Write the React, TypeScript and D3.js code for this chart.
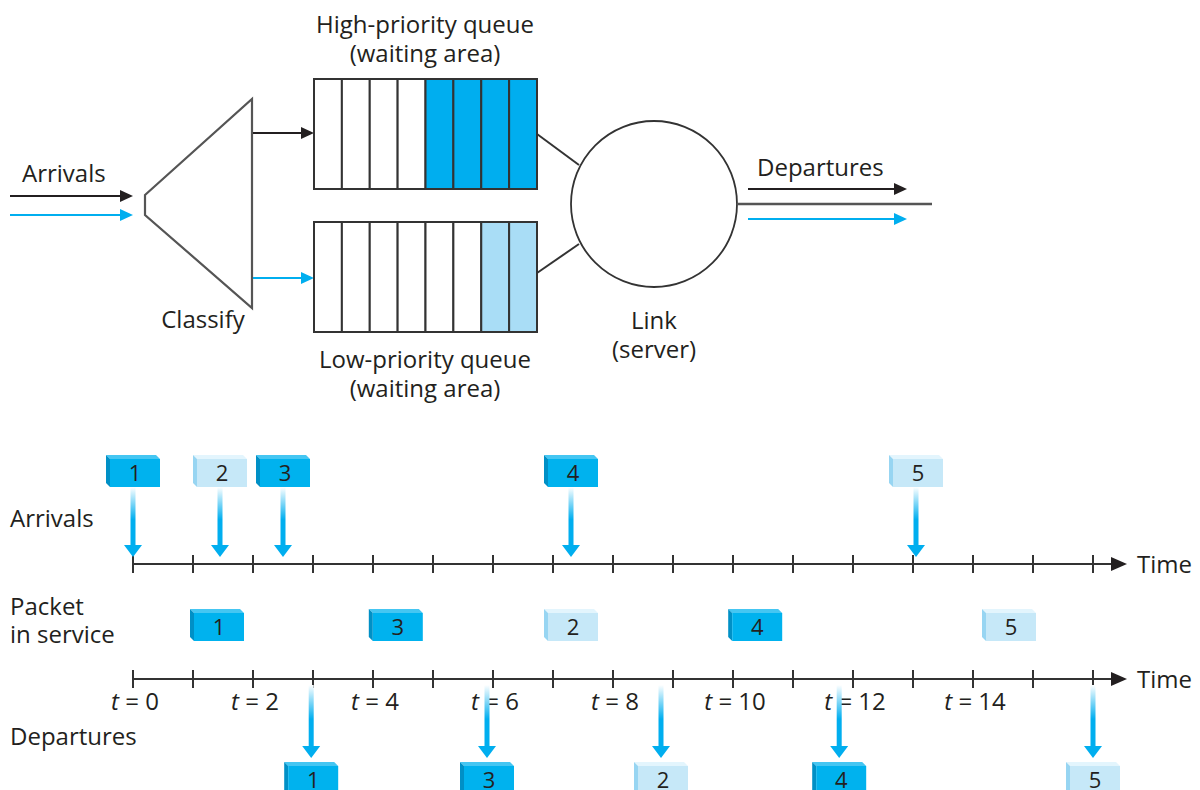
import React from "react";
import * as d3 from "d3";

// ---------- data ----------
const packetIds = [1, 2, 3, 4, 5];
const packetPriority = ["high", "low", "high", "high", "low"];
const arrivalTimes = [0, 1.45, 2.5, 7.3, 13.05];
const serviceOrder = [1, 3, 2, 4, 5];
const serviceMidTimes = [1.4, 4.38, 7.3, 10.37, 14.6];
const departureTimes = [2.97, 5.9, 8.8, 11.77, 16.0];
const tickValues = d3.range(0, 17);
const tickLabelValues = [0, 2, 4, 6, 8, 10, 12, 14];
const highQueueSlots = 8;
const highQueueFilled = 4;
const lowQueueSlots = 8;
const lowQueueFilled = 2;

// ---------- styles ----------
const FONT = "'Open Sans', 'Noto Sans', sans-serif";
const TXT = "#231f20";
const BLUE = "#00aeef";
const LIGHT = "#a9ddf6";
const LINE = "#333333";

const x = d3.scaleLinear().domain([0, 16]).range([133, 1093]);

function Packet({ cx, top, id, light }: { cx: number; top: number; id: number; light: boolean }) {
  const w = 54, h = 32, d = 4;
  const left = cx - w / 2;
  const front = light ? "#c6e8f8" : "#00b2ee";
  const topFace = light ? "#e3f5fd" : "#45c6f2";
  const leftFace = light ? "#97d5f2" : "#0090c6";
  return (
    <g>
      <polygon points={`${left},${top} ${left + w - d},${top} ${left + w},${top + d} ${left + d},${top + d}`} fill={topFace} />
      <polygon points={`${left},${top} ${left + d},${top + d} ${left + d},${top + h} ${left},${top + h - d}`} fill={leftFace} />
      <rect x={left + d} y={top + d} width={w - d} height={h - d} fill={front} />
      <text x={left + d + (w - d) / 2} y={top + d + (h - d) / 2 + 8} textAnchor="middle" fontSize={22} fill={TXT} fontFamily={FONT}>{id}</text>
    </g>
  );
}

function DownArrow({ cx, y0, y1, gid }: { cx: number; y0: number; y1: number; gid: string }) {
  const sw = 5, hw = 9, hh = 12;
  return (
    <g>
      <rect x={cx - sw / 2} y={y0} width={sw} height={y1 - hh - y0 + 1} fill={`url(#${gid})`} />
      <polygon points={`${cx - hw},${y1 - hh} ${cx + hw},${y1 - hh} ${cx},${y1}`} fill={BLUE} />
    </g>
  );
}

function HArrow({ x0, x1, y, color }: { x0: number; x1: number; y: number; color: string }) {
  return (
    <g>
      <line x1={x0} y1={y} x2={x1 - 10} y2={y} stroke={color} strokeWidth={2} />
      <polygon points={`${x1 - 13},${y - 6} ${x1},${y} ${x1 - 13},${y + 6}`} fill={color} />
    </g>
  );
}

function TimeAxis({ y, labels }: { y: number; labels: boolean }) {
  return (
    <g>
      <line x1={x(0)} y1={y} x2={1114} y2={y} stroke={LINE} strokeWidth={2} />
      <polygon points={`1111,${y - 7} 1127,${y} 1111,${y + 7}`} fill={TXT} />
      {tickValues.map((t) => (
        <line key={t} x1={x(t)} x2={x(t)} y1={y - 9} y2={y + 9} stroke={LINE} strokeWidth={2} />
      ))}
      <text x={1137} y={y + 9} fontSize={24} fill={TXT} fontFamily={FONT}>Time</text>
      {labels &&
        tickLabelValues.map((t) => (
          <text key={t} x={x(t) + 2} y={y + 31} textAnchor="middle" fontSize={24} fill={TXT} fontFamily={FONT}>
            <tspan fontStyle="italic">t</tspan>
            {` = ${t}`}
          </text>
        ))}
    </g>
  );
}

export default function App() {
  const qx = d3.scaleLinear().domain([0, 8]).range([314, 537]);
  const hiTop = 79, hiBot = 189, loTop = 222, loBot = 332;
  const circ = { cx: 654, cy: 204, r: 83 };

  const arrTop = 455, arrBoxBot = 487, arrAxis = 564;
  const svcTop = 609;
  const depAxis = 679, depTop = 762;

  return (
    <svg width={1200} height={790} style={{ position: "absolute", left: 0, top: 0, background: "#fff" }} fontFamily={FONT}>
      <defs>
        <linearGradient id="shaftGrad" x1="0" y1="0" x2="0" y2="1">
          <stop offset="0" stopColor="#ffffff" />
          <stop offset="0.55" stopColor={BLUE} />
          <stop offset="1" stopColor={BLUE} />
        </linearGradient>
      </defs>

      {/* ---------- top diagram ---------- */}
      <text x={22} y={182} fontSize={24} fill={TXT}>Arrivals</text>
      <HArrow x0={10} x1={133} y={196} color={TXT} />
      <HArrow x0={10} x1={133} y={215} color={BLUE} />

      <polygon points="145,195 252,99 252,308 145,215" fill="#fff" stroke="#555" strokeWidth={2.2} />
      <text x={203} y={328} textAnchor="middle" fontSize={24} fill={TXT}>Classify</text>
      <HArrow x0={253} x1={314} y={133} color={TXT} />
      <HArrow x0={253} x1={314} y={278} color={BLUE} />

      {/* high priority queue */}
      <text x={425} y={33} textAnchor="middle" fontSize={24} fill={TXT}>High-priority queue</text>
      <text x={425} y={62} textAnchor="middle" fontSize={24} fill={TXT}>(waiting area)</text>
      {d3.range(highQueueSlots).map((i) => (
        <rect key={i} x={qx(i)} y={hiTop} width={qx(1) - qx(0)} height={hiBot - hiTop}
          fill={i >= highQueueSlots - highQueueFilled ? BLUE : "#fff"} stroke={LINE} strokeWidth={2} />
      ))}

      {/* low priority queue */}
      {d3.range(lowQueueSlots).map((i) => (
        <rect key={i} x={qx(i)} y={loTop} width={qx(1) - qx(0)} height={loBot - loTop}
          fill={i >= lowQueueSlots - lowQueueFilled ? LIGHT : "#fff"} stroke={LINE} strokeWidth={2} />
      ))}
      <text x={425} y={368} textAnchor="middle" fontSize={24} fill={TXT}>Low-priority queue</text>
      <text x={425} y={397} textAnchor="middle" fontSize={24} fill={TXT}>(waiting area)</text>

      {/* connectors and link */}
      <line x1={537} y1={134} x2={579} y2={165} stroke={LINE} strokeWidth={2} />
      <line x1={537} y1={273} x2={579} y2={244} stroke={LINE} strokeWidth={2} />
      <circle cx={circ.cx} cy={circ.cy} r={circ.r} fill="#fff" stroke={LINE} strokeWidth={1.8} />
      <text x={654} y={329} textAnchor="middle" fontSize={24} fill={TXT}>Link</text>
      <text x={654} y={358} textAnchor="middle" fontSize={24} fill={TXT}>(server)</text>

      <line x1={737} y1={204} x2={932} y2={204} stroke="#555" strokeWidth={2.5} />
      <text x={757} y={176} fontSize={24} fill={TXT}>Departures</text>
      <HArrow x0={748} x1={907} y={189} color={TXT} />
      <HArrow x0={748} x1={907} y={219} color={BLUE} />

      {/* ---------- timeline ---------- */}
      <text x={10} y={527} fontSize={24} fill={TXT}>Arrivals</text>
      <text x={10} y={615} fontSize={24} fill={TXT}>Packet</text>
      <text x={10} y={643} fontSize={24} fill={TXT}>in service</text>
      <text x={10} y={745} fontSize={24} fill={TXT}>Departures</text>

      <TimeAxis y={arrAxis} labels={false} />
      <TimeAxis y={depAxis} labels={true} />

      {/* arrivals */}
      {packetIds.map((id, i) => (
        <g key={`a${id}`}>
          <DownArrow cx={x(arrivalTimes[i])} y0={arrBoxBot} y1={arrAxis - 7} gid="shaftGrad" />
          <Packet cx={x(arrivalTimes[i])} top={arrTop} id={id} light={packetPriority[i] === "low"} />
        </g>
      ))}

      {/* in service */}
      {serviceOrder.map((id, k) => (
        <Packet key={`s${id}`} cx={x(serviceMidTimes[k])} top={svcTop} id={id}
          light={packetPriority[packetIds.indexOf(id)] === "low"} />
      ))}

      {/* departures */}
      {serviceOrder.map((id, k) => (
        <g key={`d${id}`}>
          <DownArrow cx={x(departureTimes[k])} y0={depAxis + 6} y1={depTop - 4} gid="shaftGrad" />
          <Packet cx={x(departureTimes[k])} top={depTop} id={id}
            light={packetPriority[packetIds.indexOf(id)] === "low"} />
        </g>
      ))}
    </svg>
  );
}
